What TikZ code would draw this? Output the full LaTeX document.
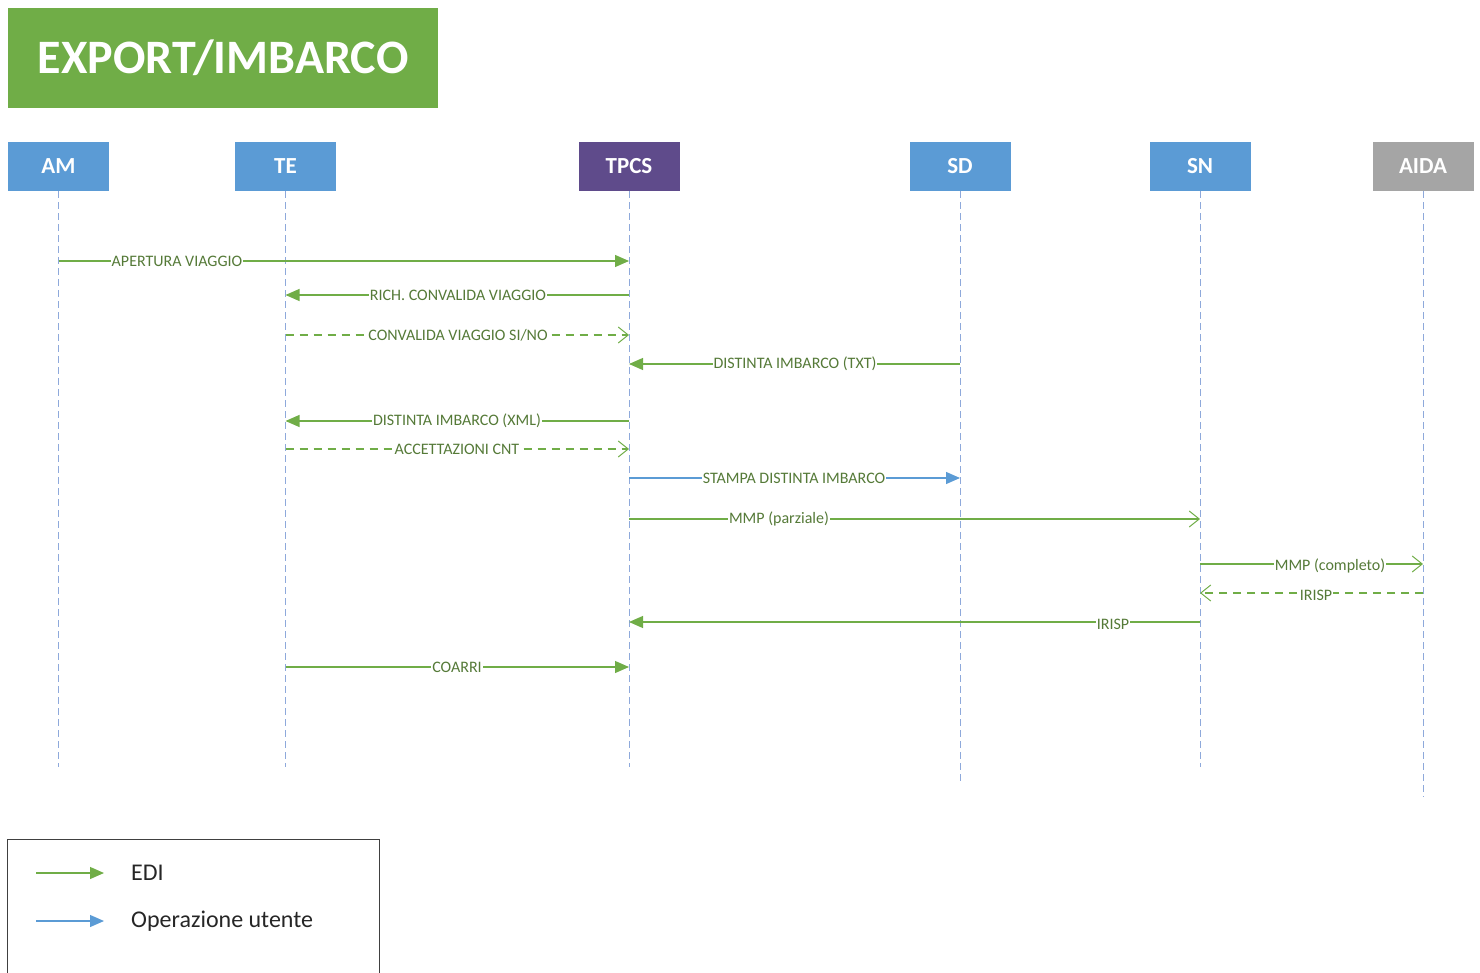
\documentclass[tikz,border=0pt]{standalone}
\usepackage{fontspec}
\setmainfont{Carlito}
\usetikzlibrary{arrows.meta}
\definecolor{titlegreen}{HTML}{70AD47}
\definecolor{hblue}{HTML}{5B9BD5}
\definecolor{hpurple}{HTML}{5F4B8B}
\definecolor{hgrey}{HTML}{A5A5A5}
\definecolor{edigreen}{HTML}{70AD47}
\definecolor{userblue}{HTML}{5B9BD5}
\definecolor{lifeblue}{HTML}{8EA9DB}
\definecolor{lbltext}{HTML}{557A38}
\definecolor{legtext}{HTML}{262626}
\definecolor{legframe}{HTML}{404040}
\begin{document}
\begin{tikzpicture}[x=1pt,y=-1pt,
 hdr/.style={minimum width=101pt,minimum height=49pt,inner sep=0pt,text=white,font=\fontsize{23}{27}\selectfont\bfseries},
 life/.style={draw=lifeblue,line width=1pt,dash pattern=on 7pt off 4pt},
 edi/.style={draw=edigreen,line width=1.2pt},
 usr/.style={draw=userblue,line width=1.2pt},
 fullhead/.style={-{Triangle[length=14pt,width=12pt]}},
 openhead/.style={-{Straight Barb[length=10pt,width=16pt,line width=1pt]}},
 ret/.style={dash pattern=on 8pt off 6pt},
 lbl/.style={fill=white,inner sep=1pt,text=lbltext,font=\fontsize{16}{19}\selectfont},
 legl/.style={anchor=west,inner sep=0pt,text=legtext,font=\fontsize{24}{28}\selectfont}
]
\useasboundingbox (0,0) rectangle (1480,973);

% title
\node[fill=titlegreen,minimum width=430pt,minimum height=100pt,inner sep=0pt,anchor=north west,
      text=white,font=\fontsize{48}{56}\selectfont\bfseries] (title) at (8,8) {EXPORT/IMBARCO};

% headers
\node[hdr,fill=hblue]   (am)   at (58.5,166.5) {AM};
\node[hdr,fill=hblue]   (te)   at (285.5,166.5) {TE};
\node[hdr,fill=hpurple] (tpcs) at (629,166.5) {TPCS};
\node[hdr,fill=hblue]   (sd)   at (960,166.5) {SD};
\node[hdr,fill=hblue]   (sn)   at (1200,166.5) {SN};
\node[hdr,fill=hgrey]   (aida) at (1423,166.5) {AIDA};

% lifelines
\coordinate (amE) at (58.5,767);
\coordinate (teE) at (285.5,767);
\coordinate (tpcsE) at (629,767);
\coordinate (sdE) at (960,785);
\coordinate (snE) at (1200,767);
\coordinate (aidaE) at (1423,797);
\draw[life] (am.south) -- (amE);
\draw[life] (te.south) -- (teE);
\draw[life] (tpcs.south) -- (tpcsE);
\draw[life] (sd.south) -- (sdE);
\draw[life] (sn.south) -- (snE);
\draw[life] (aida.south) -- (aidaE);

% messages
\draw[edi,fullhead] (am.south |- 0,261) -- (tpcs.south |- 0,261);
\node[lbl] (l1) at (177,261) {APERTURA VIAGGIO};

\draw[edi,fullhead] (tpcs.south |- 0,295) -- (te.south |- 0,295);
\node[lbl] (l2) at (458,295) {RICH. CONVALIDA VIAGGIO};

\draw[edi,openhead,ret] (te.south |- 0,335) -- (tpcs.south |- 0,335);
\node[lbl] (l3) at (458,335) {CONVALIDA VIAGGIO SI/NO};

\draw[edi,fullhead] (sd.south |- 0,364) -- (tpcs.south |- 0,364);
\node[lbl] (l4) at (795,364) {DISTINTA IMBARCO (TXT)};

\draw[edi,fullhead] (tpcs.south |- 0,421) -- (te.south |- 0,421);
\node[lbl] (l5) at (457,421) {DISTINTA IMBARCO (XML)};

\draw[edi,openhead,ret] (te.south |- 0,449) -- (tpcs.south |- 0,449);
\node[lbl] (l6) at (457,449) {ACCETTAZIONI CNT};

\draw[usr,fullhead] (tpcs.south |- 0,478) -- (sd.south |- 0,478);
\node[lbl] (l7) at (794,478) {STAMPA DISTINTA IMBARCO};

\draw[edi,openhead] (tpcs.south |- 0,519) -- (sn.south |- 0,519);
\node[lbl] (l8) at (779,519) {MMP (parziale)};

\draw[edi,openhead] (sn.south |- 0,564) -- (aida.south |- 0,564);
\node[lbl] (l9) at (1330,566) {MMP (completo)};

\draw[edi,openhead,ret] (aida.south |- 0,593) -- (sn.south |- 0,593);
\node[lbl] (l10) at (1316,595) {IRISP};

\draw[edi,fullhead] (sn.south |- 0,622) -- (tpcs.south |- 0,622);
\node[lbl] (l11) at (1113,624) {IRISP};

\draw[edi,fullhead] (te.south |- 0,667) -- (tpcs.south |- 0,667);
\node[lbl] (l12) at (457,667) {COARRI};

% legend
\draw[draw=legframe,line width=1pt] (7,980) -- (7,839) -- (379,839) -- (379,980);
\coordinate (legA1) at (36,873);
\coordinate (legA2) at (104,873);
\coordinate (legB1) at (36,921);
\coordinate (legB2) at (104,921);
\draw[edi,fullhead] (legA1) -- (legA2);
\draw[usr,fullhead] (legB1) -- (legB2);
\node[legl] (legEDI) at (131,873) {EDI};
\node[legl] (legUSR) at (131,921) {Operazione utente};
\end{tikzpicture}
\end{document}
